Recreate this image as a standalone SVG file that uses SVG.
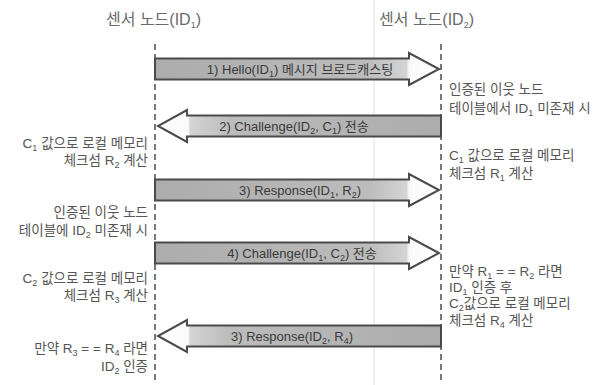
<svg xmlns="http://www.w3.org/2000/svg" width="611" height="385" viewBox="0 0 611 385">
<style>
text{font-family:"Liberation Sans","Noto Sans CJK KR",sans-serif;}
.hdr{font-size:16px;fill:#6a6a6a;}
.lbl{font-size:13px;fill:#3a3a3a;text-anchor:middle;}
.note{font-size:13.5px;fill:#555;}
.noteL{font-size:13.5px;fill:#555;text-anchor:end;}
.sub{font-size:9px;baseline-shift:-3px;}
.life{stroke:#555;stroke-width:1.6;stroke-dasharray:6 4;fill:none;}
.arrR{fill:url(#gR);stroke:#4a4a4a;stroke-width:2;stroke-linejoin:miter;}
.arrL{fill:url(#gL);stroke:#4a4a4a;stroke-width:2;stroke-linejoin:miter;}
</style>
<defs>
<linearGradient id="gR" x1="0" y1="0" x2="1" y2="0">
<stop offset="0" stop-color="#acacac"/>
<stop offset="0.75" stop-color="#bcbcbc"/>
<stop offset="0.885" stop-color="#d4d4d4"/>
<stop offset="0.895" stop-color="#fafafa"/>
<stop offset="1" stop-color="#ffffff"/>
</linearGradient>
<linearGradient id="gL" x1="1" y1="0" x2="0" y2="0">
<stop offset="0" stop-color="#acacac"/>
<stop offset="0.75" stop-color="#bcbcbc"/>
<stop offset="0.885" stop-color="#d4d4d4"/>
<stop offset="0.895" stop-color="#fafafa"/>
<stop offset="1" stop-color="#ffffff"/>
</linearGradient>
</defs>
<rect width="611" height="385" fill="#ffffff"/>
<line x1="374" y1="0" x2="374" y2="385" stroke="#e2e2e2" stroke-width="1"/>

<g id="node-id1">
<text class="hdr" x="106" y="25">센서 노드(ID<tspan class="sub">1</tspan>)</text>
<line class="life" x1="155" y1="44" x2="155" y2="382"/>
</g>
<g id="node-id2">
<text class="hdr" x="379" y="25">센서 노드(ID<tspan class="sub">2</tspan>)</text>
<line class="life" x1="441" y1="44" x2="441" y2="382"/>
</g>

<g id="connectors">
<g id="msg1">
<path class="arrR" d="M155,58.5 L409,58.5 L409,53 L439,69 L409,85 L409,79.5 L155,79.5 Z"/>
<text class="lbl" x="300" y="73.5">1) Hello(ID<tspan class="sub">1</tspan>)  메시지 브로드캐스팅</text>
</g>
<g id="msg2">
<path class="arrL" d="M441,115.5 L187,115.5 L187,110 L158,126 L187,142 L187,136.5 L441,136.5 Z"/>
<text class="lbl" x="294" y="130.5">2) Challenge(ID<tspan class="sub">2</tspan>,  C<tspan class="sub">1</tspan>) 전송</text>
</g>
<g id="msg3">
<path class="arrR" d="M155,179.5 L409,179.5 L409,174 L439,190 L409,206 L409,200.5 L155,200.5 Z"/>
<text class="lbl" x="300" y="194.5">3) Response(ID<tspan class="sub">1</tspan>,  R<tspan class="sub">2</tspan>)</text>
</g>
<g id="msg4">
<path class="arrR" d="M155,242.5 L409,242.5 L409,237 L439,253 L409,269 L409,263.5 L155,263.5 Z"/>
<text class="lbl" x="302" y="257.5">4) Challenge(ID<tspan class="sub">1</tspan>,  C<tspan class="sub">2</tspan>) 전송</text>
</g>
<g id="msg5">
<path class="arrL" d="M441,325.5 L187,325.5 L187,320 L158,336 L187,352 L187,346.5 L441,346.5 Z"/>
<text class="lbl" x="292" y="340.5">3) Response(ID<tspan class="sub">2</tspan>,  R<tspan class="sub">4</tspan>)</text>
</g>
</g>

<g id="notes-right">
<text class="note" x="449" y="94">인증된 이웃 노드</text>
<text class="note" x="449" y="113">테이블에서 ID<tspan class="sub">1</tspan>  미존재 시</text>
<text class="note" x="449" y="160">C<tspan class="sub">1</tspan> 값으로 로컬 메모리</text>
<text class="note" x="449" y="178">체크섬 R<tspan class="sub">1</tspan> 계산</text>
<text class="note" x="449" y="276">만약 R<tspan class="sub">1</tspan> = = R<tspan class="sub">2</tspan> 라면</text>
<text class="note" x="449" y="292">ID<tspan class="sub">1</tspan> 인증 후</text>
<text class="note" x="449" y="308">C<tspan class="sub">2</tspan>값으로 로컬 메모리</text>
<text class="note" x="449" y="325">체크섬 R<tspan class="sub">4</tspan> 계산</text>
</g>

<g id="notes-left">
<text class="noteL" x="148" y="148">C<tspan class="sub">1</tspan> 값으로 로컬 메모리</text>
<text class="noteL" x="148" y="165">체크섬 R<tspan class="sub">2</tspan> 계산</text>
<text class="noteL" x="148" y="217">인증된 이웃 노드</text>
<text class="noteL" x="148" y="235">테이블에 ID<tspan class="sub">2</tspan>  미존재 시</text>
<text class="noteL" x="148" y="283">C<tspan class="sub">2</tspan> 값으로 로컬 메모리</text>
<text class="noteL" x="148" y="300">체크섬 R<tspan class="sub">3</tspan> 계산</text>
<text class="noteL" x="148" y="353">만약 R<tspan class="sub">3</tspan> = = R<tspan class="sub">4</tspan> 라면</text>
<text class="noteL" x="148" y="371">ID<tspan class="sub">2</tspan> 인증</text>
</g>
</svg>
